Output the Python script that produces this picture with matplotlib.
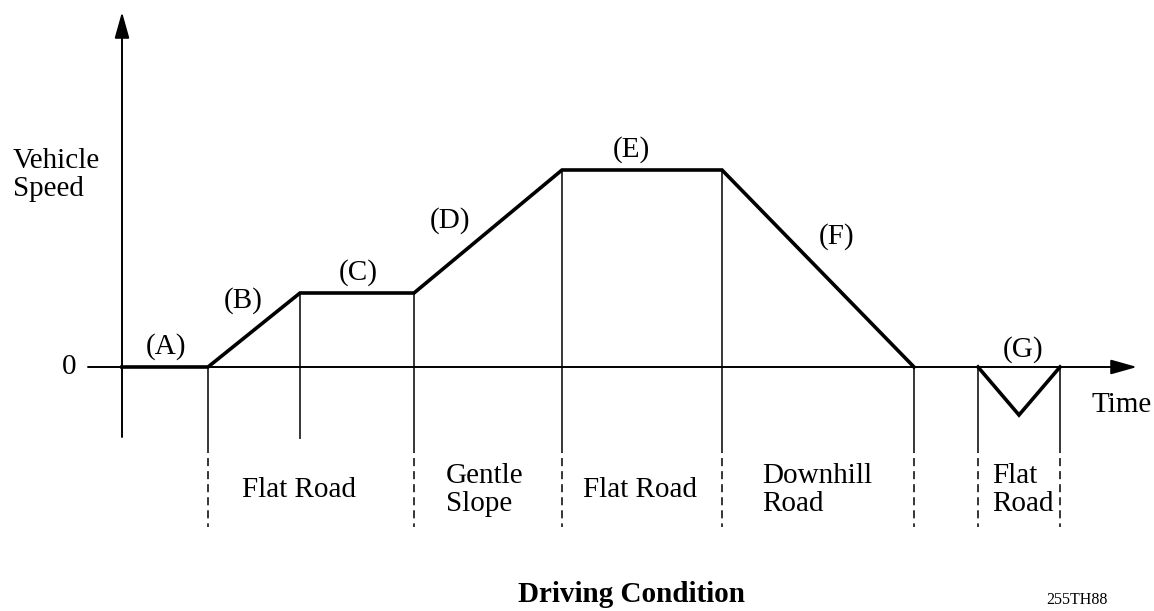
import matplotlib
matplotlib.use("Agg")
import matplotlib.pyplot as plt

plt.rcParams['font.family'] = ['Liberation Serif', 'DejaVu Serif']
plt.rcParams['lines.scale_dashes'] = False

# Speed profile (arbitrary time / speed units)
time_main = [0, 86, 178, 292, 440, 600, 792]
speed_main = [0, 0, 74, 74, 197, 197, 0]
time_g = [856, 897, 938]
speed_g = [0, -48, 0]

phase_labels = ["(A)", "(B)", "(C)", "(D)", "(E)", "(F)", "(G)"]
phase_label_pos_t = [44, 121, 236, 328, 509, 715, 901]
phase_label_pos_v = [20, 66, 94, 146, 217, 130, 17]

# Boundaries: solid from profile down, then dashed road-condition dividers
solid_t = [86, 178, 292, 440, 600, 792, 856, 938]
solid_top = [0, 74, 74, 197, 197, 0, 0, 0]
solid_bottom = [-78, -72, -78, -78, -78, -78, -78, -78]
dashed_t = [86, 292, 440, 600, 792, 856, 938]
dash_top, dash_bottom = -78, -160

road_labels = ["Flat Road", "Gentle\nSlope", "Flat Road", "Downhill\nRoad", "Flat\nRoad"]
road_t = [177, 324, 518, 640, 870]
road_align = ["center", "left", "center", "left", "left"]

fig = plt.figure(figsize=(11.54, 6.11), dpi=100)
ax = fig.add_axes([0, 0, 1, 1])
ax.set_xlim(-122, 1032)
ax.set_ylim(-244, 367)
ax.axis('off')

fs = 21
# axes with arrows
ax.annotate('', xy=(0, 355), xytext=(0, -70),
            arrowprops=dict(arrowstyle='-|>,head_length=1.6,head_width=0.45',
                            mutation_scale=10, lw=1.4, color='black',
                            shrinkA=0, shrinkB=0))
ax.annotate('', xy=(1015, 0), xytext=(-34, 0),
            arrowprops=dict(arrowstyle='-|>,head_length=1.6,head_width=0.45',
                            mutation_scale=10, lw=1.4, color='black',
                            shrinkA=0, shrinkB=0))

for t, top, bot in zip(solid_t, solid_top, solid_bottom):
    ax.plot([t, t], [top, bot], color='black', lw=1.1, solid_capstyle='butt')
for t in dashed_t:
    ax.plot([t, t], [dash_top, dash_bottom], color='black', lw=1.1,
            dashes=(5.8, 3.6))

ax.plot(time_main, speed_main, color='black', lw=2.6, solid_joinstyle='miter')
ax.plot(time_g, speed_g, color='black', lw=2.6, solid_joinstyle='miter')

for lab, t, v in zip(phase_labels, phase_label_pos_t, phase_label_pos_v):
    ax.text(t, v, lab, ha='center', va='center', fontsize=fs)

for lab, t, al in zip(road_labels, road_t, road_align):
    ax.text(t, -123, lab, ha=al, va='center', fontsize=fs, linespacing=1.07)

ax.text(-109, 192, "Vehicle\nSpeed", ha='left', va='center', fontsize=fs,
        linespacing=1.07)
ax.text(-46, 0, "0", ha='right', va='center', fontsize=fs)
ax.text(969, -38, "Time", ha='left', va='center', fontsize=fs)
ax.text(509, -227, "Driving Condition", ha='center', va='center',
        fontsize=21, fontweight='bold')
ax.text(955, -233, "255TH88", ha='center', va='center', fontsize=11.5)

fig.savefig("out.png", dpi=100)
